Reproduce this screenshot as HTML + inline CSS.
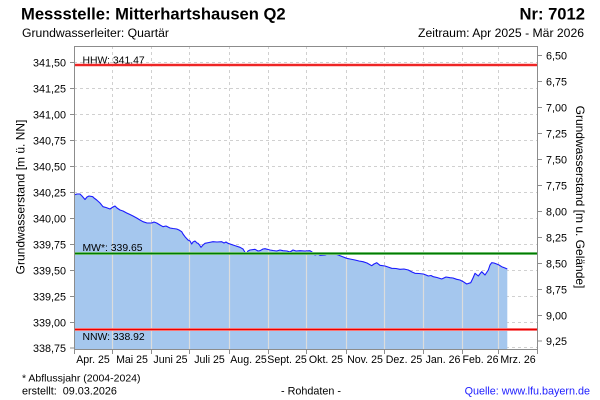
<!DOCTYPE html>
<html><head><meta charset="utf-8"><style>
html,body{margin:0;padding:0;background:#fff;}
svg{display:block;}
text{font-family:"Liberation Sans",Arial,sans-serif;fill:#000;}
</style></head><body>
<svg width="600" height="400" viewBox="0 0 600 400" xmlns="http://www.w3.org/2000/svg">
<defs>
<clipPath id="fillclip"><polygon id="fp" points="74,349 74,195 77,194 80,194 82,196 85,199.5 87,197 89,196 92.7,196.7 94,198 96.7,200 100,203 103,206.7 106,207.5 110,209 113,207 115,206 117,208 120,210 123,211 126.7,213 130,214.5 133,216 136.7,218 140,220 143,221.7 147,223 151.7,223 154,222 156.7,223 160,225 163,226.7 166,226 170,228 173,228.5 176.7,229 179,230 181.7,231.7 183,234 185,236.7 188,240 190,241 191.7,244 193,242 195,241 197,243 198,243.3 199.5,245 201,247.3 203,245 205,243.3 209,242.5 213,241.7 217,242 221.7,241.7 224,243 226,242 228,243.3 233,245 236,246 240,247.3 243,249 246,254 248,251 250,250 255,249.3 258,251 260,250.7 263,249 265,248.7 270,250 273,250.5 276.7,251 280,250 283,250.7 287,251 290,252 293,250 296,251 300,250.7 305,251 310,250.7 312,252 315,255 318,254 320,255.3 325,255 328,254 331.7,252.7 335,254 338.3,255 342,256.5 346.7,258.3 350,259 355,260 359,261 363,261.7 367,263 371.7,265.7 374,264 376.7,262.7 380,265.3 385,266 388,267 391.7,268.3 396,268.5 400,269.3 404,269 408.3,270 412,272 415,273.3 419,273.5 423.3,274 426,275 428.3,276 431,275.5 433.3,276.7 437,277.5 441.7,279 446,277 450,277.7 453,278 456.7,279.3 460,280 463.3,281.7 466.7,284 470.7,282.7 473,278 475,273.3 478.3,276 481.7,271.7 485,275 487,272 488.3,270 490,265 491.7,262.7 494,263 496.7,264 499,265 501.7,266.7 505,268 507.3,269 507.3,349"/></clipPath>
</defs>

<!-- Titles -->
<text x="21" y="19.5" font-size="16.6" font-weight="bold">Messstelle: Mitterhartshausen Q2</text>
<text x="585" y="19.5" font-size="16.6" font-weight="bold" text-anchor="end">Nr: 7012</text>
<text x="22" y="37" font-size="12.2">Grundwasserleiter: Quartär</text>
<text x="584" y="37" font-size="12.2" text-anchor="end">Zeitraum: Apr 2025 - Mär 2026</text>

<!-- horizontal grid -->
<g stroke="#d0d0d0" stroke-width="1" stroke-dasharray="3,3">
<line x1="74" x2="537" y1="62.5" y2="62.5"/>
<line x1="74" x2="537" y1="88.5" y2="88.5"/>
<line x1="74" x2="537" y1="114.5" y2="114.5"/>
<line x1="74" x2="537" y1="140.5" y2="140.5"/>
<line x1="74" x2="537" y1="166.5" y2="166.5"/>
<line x1="74" x2="537" y1="192.5" y2="192.5"/>
<line x1="74" x2="537" y1="218.5" y2="218.5"/>
<line x1="74" x2="537" y1="244.5" y2="244.5"/>
<line x1="74" x2="537" y1="270.5" y2="270.5"/>
<line x1="74" x2="537" y1="296.5" y2="296.5"/>
<line x1="74" x2="537" y1="322.5" y2="322.5"/>
<line x1="74" x2="537" y1="347.5" y2="347.5"/>
</g>
<!-- vertical grid dashed -->
<g stroke="#d0d0d0" stroke-width="1" stroke-dasharray="3,3">
<line x1="112.5" x2="112.5" y1="46" y2="349"/>
<line x1="151.5" x2="151.5" y1="46" y2="349"/>
<line x1="189.5" x2="189.5" y1="46" y2="349"/>
<line x1="229.5" x2="229.5" y1="46" y2="349"/>
<line x1="268.5" x2="268.5" y1="46" y2="349"/>
<line x1="306.5" x2="306.5" y1="46" y2="349"/>
<line x1="346.5" x2="346.5" y1="46" y2="349"/>
<line x1="384.5" x2="384.5" y1="46" y2="349"/>
<line x1="423.5" x2="423.5" y1="46" y2="349"/>
<line x1="462.5" x2="462.5" y1="46" y2="349"/>
<line x1="498.5" x2="498.5" y1="46" y2="349"/>
</g>

<!-- fill -->
<use href="#fp" fill="#a5c7ee"/>
<g clip-path="url(#fillclip)" stroke="#dcdcdc" stroke-width="1.2">
<line x1="112.5" x2="112.5" y1="46" y2="349"/>
<line x1="151.5" x2="151.5" y1="46" y2="349"/>
<line x1="189.5" x2="189.5" y1="46" y2="349"/>
<line x1="229.5" x2="229.5" y1="46" y2="349"/>
<line x1="268.5" x2="268.5" y1="46" y2="349"/>
<line x1="306.5" x2="306.5" y1="46" y2="349"/>
<line x1="346.5" x2="346.5" y1="46" y2="349"/>
<line x1="384.5" x2="384.5" y1="46" y2="349"/>
<line x1="423.5" x2="423.5" y1="46" y2="349"/>
<line x1="462.5" x2="462.5" y1="46" y2="349"/>
<line x1="498.5" x2="498.5" y1="46" y2="349"/>
</g>

<!-- data line -->
<polyline fill="none" stroke="#1a1aff" stroke-width="1.1" stroke-linejoin="round" points="74,195 77,194 80,194 82,196 85,199.5 87,197 89,196 92.7,196.7 94,198 96.7,200 100,203 103,206.7 106,207.5 110,209 113,207 115,206 117,208 120,210 123,211 126.7,213 130,214.5 133,216 136.7,218 140,220 143,221.7 147,223 151.7,223 154,222 156.7,223 160,225 163,226.7 166,226 170,228 173,228.5 176.7,229 179,230 181.7,231.7 183,234 185,236.7 188,240 190,241 191.7,244 193,242 195,241 197,243 198,243.3 199.5,245 201,247.3 203,245 205,243.3 209,242.5 213,241.7 217,242 221.7,241.7 224,243 226,242 228,243.3 233,245 236,246 240,247.3 243,249 246,254 248,251 250,250 255,249.3 258,251 260,250.7 263,249 265,248.7 270,250 273,250.5 276.7,251 280,250 283,250.7 287,251 290,252 293,250 296,251 300,250.7 305,251 310,250.7 312,252 315,255 318,254 320,255.3 325,255 328,254 331.7,252.7 335,254 338.3,255 342,256.5 346.7,258.3 350,259 355,260 359,261 363,261.7 367,263 371.7,265.7 374,264 376.7,262.7 380,265.3 385,266 388,267 391.7,268.3 396,268.5 400,269.3 404,269 408.3,270 412,272 415,273.3 419,273.5 423.3,274 426,275 428.3,276 431,275.5 433.3,276.7 437,277.5 441.7,279 446,277 450,277.7 453,278 456.7,279.3 460,280 463.3,281.7 466.7,284 470.7,282.7 473,278 475,273.3 478.3,276 481.7,271.7 485,275 487,272 488.3,270 490,265 491.7,262.7 494,263 496.7,264 499,265 501.7,266.7 505,268 507.3,269"/>

<!-- reference lines -->
<line x1="74" x2="537" y1="65" y2="65" stroke="#ff9a9a" stroke-width="3"/>
<line x1="74" x2="537" y1="65" y2="65" stroke="#e80000" stroke-width="1.6"/>
<line x1="74" x2="537" y1="253.5" y2="253.5" stroke="#8fd08f" stroke-width="3"/>
<line x1="74" x2="537" y1="253.5" y2="253.5" stroke="#007a00" stroke-width="1.6"/>
<line x1="74" x2="537" y1="329.5" y2="329.5" stroke="#ff9a9a" stroke-width="3"/>
<line x1="74" x2="537" y1="329.5" y2="329.5" stroke="#e80000" stroke-width="1.6"/>
<text x="82.5" y="63.3" font-size="10.4">HHW: 341.47</text>
<text x="82.5" y="250.8" font-size="10.4">MW*: 339.65</text>
<text x="82.5" y="340" font-size="10.4">NNW: 338.92</text>

<!-- axes frame -->
<g stroke="#8c8c8c" stroke-width="1" fill="none">
<line x1="74.5" x2="74.5" y1="46" y2="350"/>
<line x1="537.5" x2="537.5" y1="46" y2="350"/>
<line x1="74" x2="538" y1="46.5" y2="46.5"/>
<line x1="74" x2="538" y1="349.5" y2="349.5"/>
<!-- left ticks -->
<line x1="70" x2="74" y1="62.5" y2="62.5"/>
<line x1="70" x2="74" y1="88.5" y2="88.5"/>
<line x1="70" x2="74" y1="114.5" y2="114.5"/>
<line x1="70" x2="74" y1="140.5" y2="140.5"/>
<line x1="70" x2="74" y1="166.5" y2="166.5"/>
<line x1="70" x2="74" y1="192.5" y2="192.5"/>
<line x1="70" x2="74" y1="218.5" y2="218.5"/>
<line x1="70" x2="74" y1="244.5" y2="244.5"/>
<line x1="70" x2="74" y1="270.5" y2="270.5"/>
<line x1="70" x2="74" y1="296.5" y2="296.5"/>
<line x1="70" x2="74" y1="322.5" y2="322.5"/>
<line x1="70" x2="74" y1="348" y2="348"/>
<!-- right ticks -->
<line x1="538" x2="542" y1="55.5" y2="55.5"/>
<line x1="538" x2="542" y1="81.5" y2="81.5"/>
<line x1="538" x2="542" y1="107.5" y2="107.5"/>
<line x1="538" x2="542" y1="133.5" y2="133.5"/>
<line x1="538" x2="542" y1="159.5" y2="159.5"/>
<line x1="538" x2="542" y1="185.5" y2="185.5"/>
<line x1="538" x2="542" y1="211.5" y2="211.5"/>
<line x1="538" x2="542" y1="237.5" y2="237.5"/>
<line x1="538" x2="542" y1="263.5" y2="263.5"/>
<line x1="538" x2="542" y1="289.5" y2="289.5"/>
<line x1="538" x2="542" y1="315.5" y2="315.5"/>
<line x1="538" x2="542" y1="341" y2="341"/>
<!-- bottom ticks -->
<line x1="74.5" x2="74.5" y1="350" y2="354"/>
<line x1="112.5" x2="112.5" y1="350" y2="354"/>
<line x1="151.5" x2="151.5" y1="350" y2="354"/>
<line x1="189.5" x2="189.5" y1="350" y2="354"/>
<line x1="229.5" x2="229.5" y1="350" y2="354"/>
<line x1="268.5" x2="268.5" y1="350" y2="354"/>
<line x1="306.5" x2="306.5" y1="350" y2="354"/>
<line x1="346.5" x2="346.5" y1="350" y2="354"/>
<line x1="384.5" x2="384.5" y1="350" y2="354"/>
<line x1="423.5" x2="423.5" y1="350" y2="354"/>
<line x1="462.5" x2="462.5" y1="350" y2="354"/>
<line x1="498.5" x2="498.5" y1="350" y2="354"/>
<line x1="537.5" x2="537.5" y1="350" y2="354"/>
</g>

<!-- left tick labels -->
<g font-size="10.8" text-anchor="end">
<text x="66" y="66.5">341,50</text>
<text x="66" y="92.5">341,25</text>
<text x="66" y="118.5">341,00</text>
<text x="66" y="144.5">340,75</text>
<text x="66" y="170.5">340,50</text>
<text x="66" y="196.5">340,25</text>
<text x="66" y="222.5">340,00</text>
<text x="66" y="248.5">339,75</text>
<text x="66" y="274.5">339,50</text>
<text x="66" y="300.5">339,25</text>
<text x="66" y="326.5">339,00</text>
<text x="66" y="352">338,75</text>
</g>
<!-- right tick labels -->
<g font-size="10.8">
<text x="546" y="59.5">6,50</text>
<text x="546" y="85.5">6,75</text>
<text x="546" y="111.5">7,00</text>
<text x="546" y="137.5">7,25</text>
<text x="546" y="163.5">7,50</text>
<text x="546" y="189.5">7,75</text>
<text x="546" y="215.5">8,00</text>
<text x="546" y="241.5">8,25</text>
<text x="546" y="267.5">8,50</text>
<text x="546" y="293.5">8,75</text>
<text x="546" y="319.5">9,00</text>
<text x="546" y="345">9,25</text>
</g>

<!-- month labels -->
<g font-size="10.6" text-anchor="middle">
<text x="93" y="363">Apr. 25</text>
<text x="132" y="363">Mai 25</text>
<text x="170.5" y="363">Juni 25</text>
<text x="209.5" y="363">Juli 25</text>
<text x="248.5" y="363">Aug. 25</text>
<text x="287" y="363">Sept. 25</text>
<text x="326" y="363">Okt. 25</text>
<text x="365" y="363">Nov. 25</text>
<text x="404" y="363">Dez. 25</text>
<text x="443" y="363">Jan. 26</text>
<text x="480.5" y="363">Feb. 26</text>
<text x="518" y="363">Mrz. 26</text>
</g>

<!-- axis titles -->
<text transform="translate(24.5,197) rotate(-90)" font-size="12" text-anchor="middle">Grundwasserstand [m ü. NN]</text>
<text transform="translate(576,197) rotate(90)" font-size="12" text-anchor="middle">Grundwasserstand [m u. Gelände]</text>

<!-- footer -->
<text x="22" y="381.5" font-size="10.5">* Abflussjahr (2004-2024)</text>
<text x="22" y="394.5" font-size="10.8" xml:space="preserve">erstellt:  09.03.2026</text>
<text x="311" y="394.5" font-size="10.8" text-anchor="middle">- Rohdaten -</text>
<text x="590" y="394.5" font-size="10.8" text-anchor="end" style="fill:#2020ff">Quelle: www.lfu.bayern.de</text>
</svg>
</body></html>
